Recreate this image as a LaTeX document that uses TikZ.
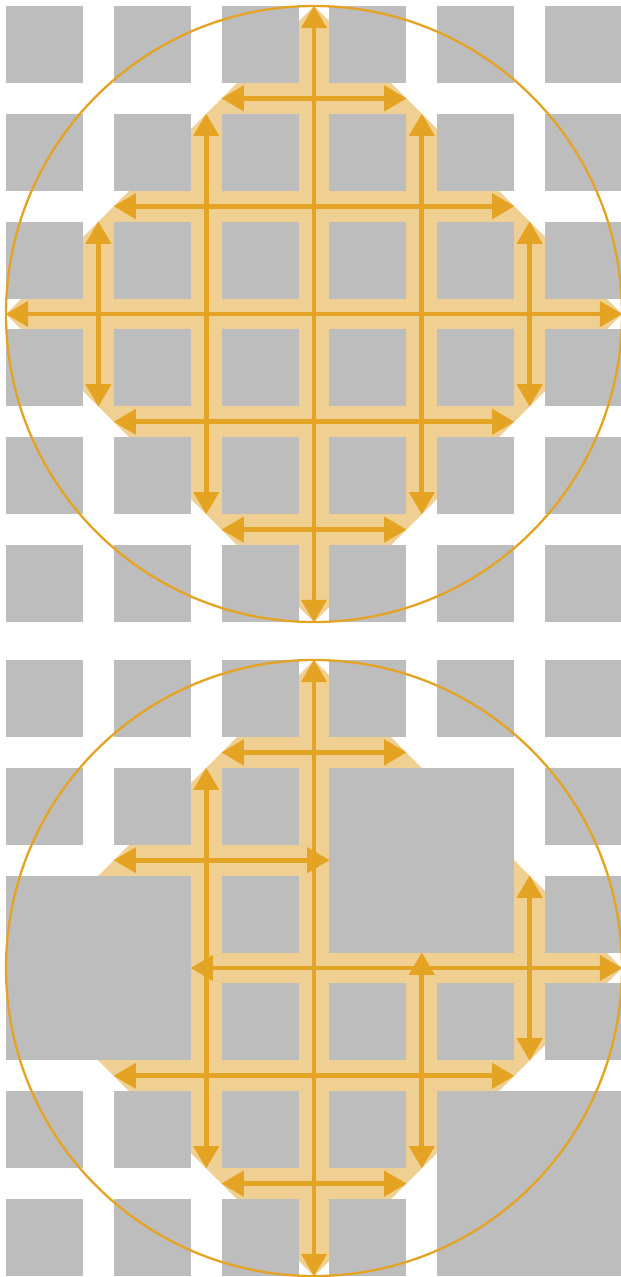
\documentclass[tikz,border=0pt]{standalone}
\usetikzlibrary{arrows.meta}
\definecolor{lorange}{RGB}{240,208,146}
\definecolor{dorange}{RGB}{229,163,35}
\definecolor{sqgray}{RGB}{189,189,189}
\begin{document}
\begin{tikzpicture}[x=1cm,y=-1cm,
  sq/.style={fill=sqgray},
  tipT/.tip={Triangle[width=0.85cm,length=0.72cm,line width=0pt]},
  lane/.style={draw=dorange, line width=0.16cm, tipT-tipT},
  ring/.style={draw=dorange, line width=0.075cm},
  zone/.style={fill=lorange}]
\useasboundingbox (-0.1948,-0.1948) rectangle (19.935,41.266);
% ---------- top: free grid ----------
\begin{scope}
\fill[zone] (10,0)--(20,10)--(10,20)--(0,10)--cycle;
\foreach \c in {0,...,5} \foreach \r in {0,...,5}
  \fill[sq] ({3.5*\c},{3.5*\r}) rectangle ++(2.5,2.5);
\foreach \k/\h in {0/3,1/6.5,2/10,3/6.5,4/3} {
  \draw[lane] ({3.5*\k+3},{10-\h}) -- ({3.5*\k+3},{10+\h});
  \draw[lane] ({10-\h},{3.5*\k+3}) -- ({10+\h},{3.5*\k+3});
}
\draw[ring] (10,10) circle[radius=10];
\end{scope}
% ---------- bottom: grid with merged blocks ----------
\begin{scope}[shift={(0,21.2338)}]
\fill[zone] (10,0)--(20,10)--(10,20)--(0,10)--cycle;
\foreach \c/\r in {0/0,1/0,2/0,3/0,4/0,5/0,
                   0/1,1/1,2/1,5/1,
                   2/2,5/2,
                   2/3,3/3,4/3,5/3,
                   0/4,1/4,2/4,3/4,
                   0/5,1/5,2/5,3/5}
  \fill[sq] ({3.5*\c},{3.5*\r}) rectangle ++(2.5,2.5);
\fill[sq] (0,7) rectangle (6,13);
\fill[sq] (10.5,3.5) rectangle (16.5,9.5);
\fill[sq] (14,14) rectangle (20,20);
% vertical lanes
\draw[lane] (10,0) -- (10,20);
\draw[lane] (6.5,3.5) -- (6.5,16.5);
\draw[lane] (17,7) -- (17,13);
\draw[lane] (13.5,9.5) -- (13.5,16.5);
% horizontal lanes
\draw[lane] (7,3) -- (13,3);
\draw[lane] (3.5,6.5) -- (10.5,6.5);
\draw[lane] (6,10) -- (20,10);
\draw[lane] (3.5,13.5) -- (16.5,13.5);
\draw[lane] (7,17) -- (13,17);
\draw[ring] (10,10) circle[radius=10];
\end{scope}
\end{tikzpicture}
\end{document}
